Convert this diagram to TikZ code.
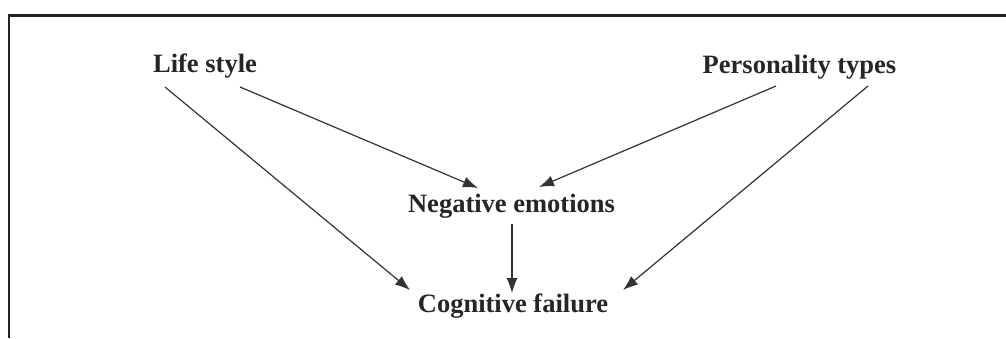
\documentclass[tikz,border=0pt]{standalone}
\usepackage{fontspec}
\setmainfont{Liberation Serif}
\usetikzlibrary{arrows.meta}
\definecolor{framec}{HTML}{222222}
\definecolor{arrc}{HTML}{333333}
\begin{document}
\begin{tikzpicture}[x=1pt,y=-1pt,
  lbl/.style={anchor=base,inner sep=0pt,font=\fontsize{26.5}{30}\selectfont\bfseries,text=black!85},
  arr/.style={draw=arrc,line width=1.2pt,-{Latex[length=15pt,width=11pt]}}]
\useasboundingbox (0,0) rectangle (1006,338);
\fill[white] (0,0) rectangle (1006,338);
\draw[framec,line width=2.8pt] (9,338) -- (9,15.5) -- (1006,15.5);
\node[lbl] (life) at (205,72) {Life style};
\node[lbl] (pers) at (799.5,73) {Personality types};
\node[lbl] (neg) at (511.5,212) {Negative emotions};
\node[lbl] (cog) at (513,312) {Cognitive failure};
\coordinate (l1) at ([shift={(-40,15)}]life.base);
\coordinate (l2) at ([shift={(35,15)}]life.base);
\coordinate (p1) at ([shift={(-23.5,13)}]pers.base);
\coordinate (p2) at ([shift={(68.5,13)}]pers.base);
\coordinate (n1) at ([shift={(-33.5,-24)}]neg.base);
\coordinate (n2) at ([shift={(27.5,-25)}]neg.base);
\coordinate (n3) at ([shift={(0.5,12)}]neg.base);
\coordinate (c1) at ([shift={(-103,-22)}]cog.base);
\coordinate (c2) at ([shift={(110,-22)}]cog.base);
\coordinate (c3) at ([shift={(-1,-19)}]cog.base);
\draw[arr] (l1) -- (c1);
\draw[arr] (l2) -- (n1);
\draw[arr] (p1) -- (n2);
\draw[arr] (p2) -- (c2);
\draw[arr] (n3) -- (c3);
\end{tikzpicture}
\end{document}
